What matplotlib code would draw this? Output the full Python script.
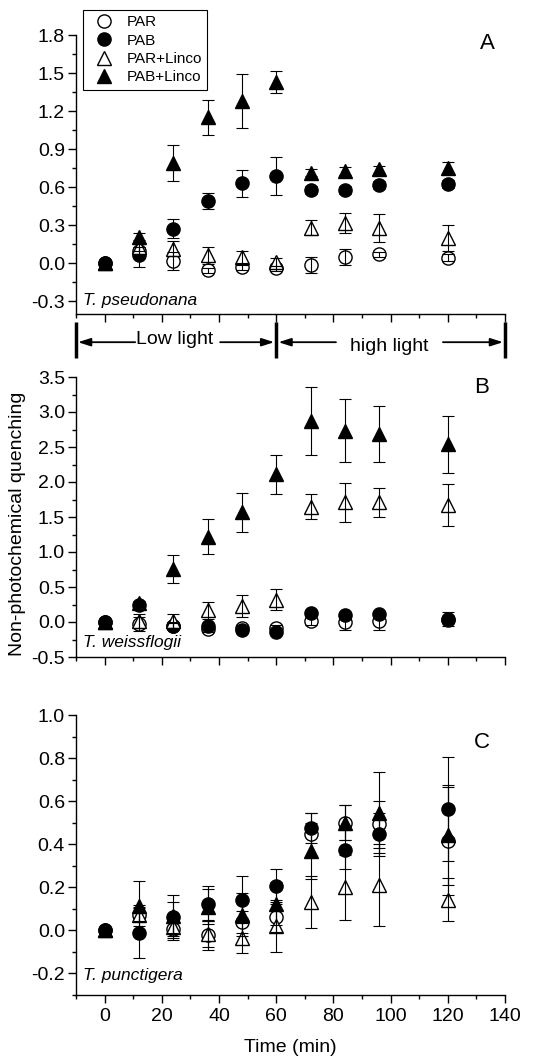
import matplotlib
matplotlib.use("Agg")
import matplotlib.pyplot as plt
from matplotlib.lines import Line2D
from matplotlib.ticker import MultipleLocator, FormatStrFormatter
import numpy as np

plt.rcParams['font.family'] = ['Liberation Sans', 'DejaVu Sans']
plt.rcParams['axes.unicode_minus'] = False

# ---------------- data ----------------
time = [0, 12, 24, 36, 48, 60, 72, 84, 96, 120]
series_labels = ["PAR", "PAB", "PAR+Linco", "PAB+Linco"]

# Panel A: T. pseudonana
PAR_A = [0, 0.10, 0.02, -0.055, -0.03, -0.04, -0.015, 0.05, 0.07, 0.045]
PAR_A_err = [0, 0.03, 0.07, 0.02, 0.02, 0.02, 0.065, 0.06, 0.02, 0.03]
PAB_A = [0, 0.063, 0.274, 0.49, 0.63, 0.687, 0.58, 0.58, 0.615, 0.626]
PAB_A_err = [0, 0.09, 0.073, 0.065, 0.108, 0.15, 0.03, 0.03, 0.03, 0.03]
PARL_A = [0, 0.13, 0.115, 0.063, 0.05, 0.01, 0.28, 0.32, 0.28, 0.20]
PARL_A_err = [0, 0.03, 0.06, 0.065, 0.05, 0.03, 0.06, 0.08, 0.11, 0.10]
PABL_A = [0, 0.21, 0.79, 1.15, 1.28, 1.43, 0.715, 0.73, 0.74, 0.755]
PABL_A_err = [0, 0.03, 0.14, 0.14, 0.21, 0.09, 0.03, 0.03, 0.03, 0.04]

# Panel B: T. weissflogii
PAR_B = [0, -0.03, -0.05, -0.10, -0.08, -0.08, 0.02, 0.0, 0.01, 0.03]
PAR_B_err = [0, 0.10, 0.05, 0.04, 0.04, 0.04, 0.06, 0.12, 0.13, 0.05]
PAB_B = [0, 0.24, -0.05, -0.06, -0.12, -0.14, 0.13, 0.10, 0.11, 0.05]
PAB_B_err = [0, 0.03, 0.03, 0.03, 0.04, 0.03, 0.03, 0.03, 0.03, 0.10]
PARL_B = [0, 0.02, 0.02, 0.17, 0.23, 0.32, 1.65, 1.71, 1.71, 1.67]
PARL_B_err = [0, 0.10, 0.10, 0.12, 0.16, 0.15, 0.18, 0.28, 0.21, 0.30]
PABL_B = [0, 0.27, 0.76, 1.22, 1.57, 2.11, 2.87, 2.73, 2.68, 2.54]
PABL_B_err = [0, 0.03, 0.20, 0.25, 0.28, 0.28, 0.49, 0.45, 0.40, 0.41]

# Panel C: T. punctigera
PAR_C = [0, 0.07, 0.006, -0.02, 0.04, 0.062, 0.447, 0.50, 0.493, 0.416]
PAR_C_err = [0, 0.05, 0.05, 0.07, 0.05, 0.07, 0.10, 0.08, 0.11, 0.25]
PAB_C = [0, -0.01, 0.06, 0.124, 0.142, 0.204, 0.475, 0.374, 0.447, 0.563]
PAB_C_err = [0, 0.12, 0.07, 0.08, 0.11, 0.08, 0.07, 0.09, 0.10, 0.24]
PARL_C = [0, 0.073, 0.015, -0.017, -0.036, 0.019, 0.131, 0.20, 0.212, 0.142]
PARL_C_err = [0, 0.03, 0.04, 0.06, 0.07, 0.12, 0.12, 0.15, 0.19, 0.10]
PABL_C = [0, 0.114, 0.065, 0.11, 0.073, 0.124, 0.37, 0.50, 0.547, 0.443]
PABL_C_err = [0, 0.113, 0.10, 0.08, 0.10, 0.10, 0.13, 0.08, 0.19, 0.23]

species = ["T. pseudonana", "T. weissflogii", "T. punctigera"]
panel_letters = ["A", "B", "C"]

# ---------------- figure ----------------
W, H = 542, 1061
fig = plt.figure(figsize=(W / 100, H / 100), dpi=100)

def ax_rect(top_px, bottom_px, left_px=76, right_px=505):
    return [left_px / W, 1 - bottom_px / H, (right_px - left_px) / W, (bottom_px - top_px) / H]

axA = fig.add_axes(ax_rect(35, 314))
axB = fig.add_axes(ax_rect(377, 657))
axC = fig.add_axes(ax_rect(715, 995))

styles = [
    dict(marker='o', mfc='white'),
    dict(marker='o', mfc='black'),
    dict(marker='^', mfc='white'),
    dict(marker='^', mfc='black'),
]

panels = [
    (axA, [(PAR_A, PAR_A_err), (PAB_A, PAB_A_err), (PARL_A, PARL_A_err), (PABL_A, PABL_A_err)],
     (-0.4, 1.8), 0.3, 0.15, -0.3),
    (axB, [(PAR_B, PAR_B_err), (PAB_B, PAB_B_err), (PARL_B, PARL_B_err), (PABL_B, PABL_B_err)],
     (-0.5, 3.5), 0.5, 0.25, -0.5),
    (axC, [(PAR_C, PAR_C_err), (PAB_C, PAB_C_err), (PARL_C, PARL_C_err), (PABL_C, PABL_C_err)],
     (-0.3, 1.0), 0.2, 0.1, -0.2),
]

ms = 9.5
for i, (ax, data, ylim, major, minor, first) in enumerate(panels):
    for k, ((vals, errs), st) in enumerate(zip(data, styles)):
        ax.errorbar(time, vals, yerr=errs, fmt='none', ecolor='black', elinewidth=0.8,
                    capsize=4.5, capthick=0.8, zorder=8)
        ax.plot(time, vals, linestyle='none', marker=st['marker'], ms=ms,
                mfc=st['mfc'], mec='black', mew=1.0, zorder=3 + k, clip_on=False)
    ax.set_xlim(-10, 140)
    ax.set_ylim(*ylim)
    ax.spines['top'].set_visible(False)
    ax.spines['right'].set_visible(False)
    for s in ('left', 'bottom'):
        ax.spines[s].set_linewidth(1.0)
    ax.xaxis.set_major_locator(MultipleLocator(20))
    ax.xaxis.set_minor_locator(MultipleLocator(10))
    yt = np.arange(first, ylim[1] + 1e-9, major)
    ax.set_yticks(yt)
    ax.yaxis.set_minor_locator(MultipleLocator(minor))
    ax.yaxis.set_major_formatter(FormatStrFormatter('%.1f'))
    ax.tick_params(which='major', direction='out', length=5.5, width=1.0, labelsize=14, pad=2.5)
    ax.tick_params(which='minor', direction='out', length=3, width=1.0)
    if i < 2:
        ax.tick_params(axis='x', labelbottom=False)
    else:
        ax.tick_params(axis='x', pad=4)
    ax.text(0.016, [0.047, 0.05, 0.068][i], species[i], transform=ax.transAxes,
            fontsize=12.5, style='italic', ha='left', va='center')
    ax.text([0.958, 0.946, 0.946][i], [0.971, 0.961, 0.90][i], panel_letters[i],
            transform=ax.transAxes, fontsize=16, ha='center', va='center')

# x label and y label
fig.text(290 / W, 1 - 1048 / H, "Time (min)", fontsize=14, ha='center', va='center')
fig.text(18 / W, 1 - 524 / H, "Non-photochemical quenching", fontsize=14,
         ha='center', va='center', rotation=90)

# legend
handles = [Line2D([], [], linestyle='none', marker=st['marker'], ms=ms, mfc=st['mfc'],
                  mec='black', mew=1.0) for st in styles]
leg = fig.legend(handles, series_labels, loc='upper left',
                 bbox_to_anchor=(83 / W, 1 - 10 / H), fontsize=11, frameon=True,
                 fancybox=False, edgecolor='black', framealpha=1, borderpad=0.35,
                 labelspacing=0.28, handletextpad=0.5, handlelength=2.0, borderaxespad=0)
leg.get_frame().set_linewidth(0.8)

# light-period annotation
axL = fig.add_axes(ax_rect(318, 362))
axL.set_xlim(-10, 140)
axL.set_ylim(0, 1)
axL.axis('off')
for xb in (-10, 60, 140):
    axL.plot([xb, xb], [0.09, 0.91], color='black', lw=2.5, solid_capstyle='butt', clip_on=False)
arrow_kw = dict(arrowstyle='-|>,head_length=0.75,head_width=0.24', color='black', lw=1.3,
                shrinkA=0, shrinkB=0)
ya = 0.45
axL.annotate('', xy=(-9.3, ya), xytext=(10.7, ya), arrowprops=arrow_kw)
axL.annotate('', xy=(59.3, ya), xytext=(40.4, ya), arrowprops=arrow_kw)
axL.annotate('', xy=(60.8, ya), xytext=(80.9, ya), arrowprops=arrow_kw)
axL.annotate('', xy=(139.3, ya), xytext=(118.3, ya), arrowprops=arrow_kw)
axL.text(24.5, 0.5, "Low light", fontsize=14, ha='center', va='center')
axL.text(99.5, 0.36, "high light", fontsize=14, ha='center', va='center')

fig.savefig("out.png", dpi=100)
